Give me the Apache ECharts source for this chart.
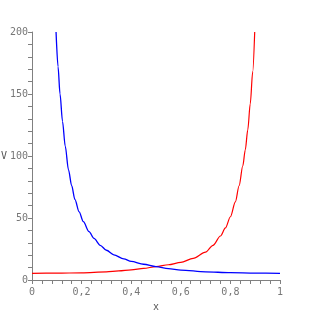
<!DOCTYPE html>
<html>
<head>
<meta charset="utf-8">
<script src="https://cdn.jsdelivr.net/npm/echarts@6/dist/echarts.min.js"></script>
<style>html,body{margin:0;padding:0;background:#fff}#c{width:311px;height:311px}</style>
</head>
<body>
<div id="c"></div>
<script>
// x positions and values
var blueX = [0.097,0.105,0.113,0.123,0.134,0.147,0.16,0.173,0.19,0.207,0.23,0.25,0.275,0.3,0.33,0.37,0.4,0.45,0.5,0.55,0.6,0.7,0.8,0.9,1.0];
var blueV = [200,172,150,128,108,89,76,65,55,47,39,33.5,28,24,20.3,17,15,12.7,10.8,9.2,8,6.6,5.9,5.6,5.4];
var redX = [0,0.1,0.2,0.3,0.35,0.4,0.45,0.5,0.55,0.6,0.65,0.7,0.73,0.76,0.78,0.8,0.82,0.835,0.85,0.86,0.87,0.88,0.89,0.898];
var redV = [5.4,5.5,5.8,6.6,7.3,8.1,9.3,10.8,12.3,14.2,17.5,22.5,28,35.5,42,51,63,76,92,105,121,142,168,200];
var xTicks = ['0','0,2','0,4','0,6','0,8','1'];

function pairs(xs, vs){ return xs.map(function(x,i){ return [x, vs[i]]; }); }

var chart = echarts.init(document.getElementById('c'), null, {renderer:'canvas'});
var axisCol = '#808080';
var mono = '"DejaVu Sans Mono", "Liberation Mono", monospace';
chart.setOption({
  animation:false,
  backgroundColor:'#fff',
  grid:{left:32, right:31, top:32, bottom:31, containLabel:false, outerBoundsMode:'none'},
  xAxis:{
    type:'value', min:0, max:1, interval:0.2,
    name:'x', nameLocation:'middle', nameGap:22, nameMoveOverlap:false,
    nameTextStyle:{color:'#555', fontFamily:mono, fontSize:10},
    axisLine:{show:true, onZero:false, lineStyle:{color:axisCol, width:1}},
    axisTick:{show:true, length:4, lineStyle:{color:axisCol}},
    minorTick:{show:true, splitNumber:5, length:4, lineStyle:{color:axisCol}},
    splitLine:{show:false},
    axisLabel:{color:'#777', fontFamily:mono, fontSize:10, margin:7,
      formatter:function(v){ return xTicks[Math.round(v/0.2)]; }}
  },
  yAxis:{
    type:'value', min:0, max:200, interval:50,
    name:'V', nameLocation:'middle', nameGap:28, nameRotate:0, nameMoveOverlap:false,
    nameTextStyle:{color:'#555', fontFamily:mono, fontSize:10, align:'center'},
    axisLine:{show:true, onZero:false, lineStyle:{color:axisCol, width:1}},
    axisTick:{show:true, length:4, lineStyle:{color:axisCol}},
    minorTick:{show:true, splitNumber:5, length:4, lineStyle:{color:axisCol}},
    splitLine:{show:false},
    axisLabel:{color:'#777', fontFamily:mono, fontSize:10, margin:4}
  },
  series:[
    {type:'line', data:pairs(redX, redV), smooth:0.3, smoothMonotone:'x', showSymbol:false, symbol:'none',
     lineStyle:{color:'#ff0000', width:1.2}, clip:true},
    {type:'line', data:pairs(blueX, blueV), smooth:0.3, smoothMonotone:'x', showSymbol:false, symbol:'none',
     lineStyle:{color:'#0000ff', width:1.3}, clip:true}
  ]
});
</script>
</body>
</html>
